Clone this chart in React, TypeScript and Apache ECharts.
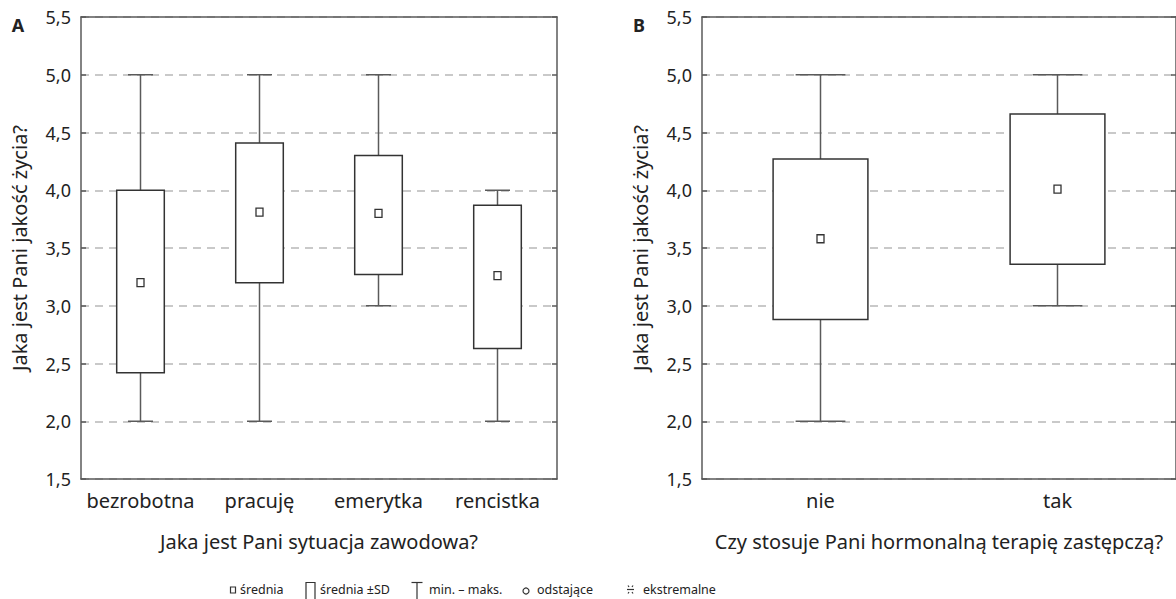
import React, { useEffect, useRef } from "react";
import * as echarts from "echarts";

// Panel A
const categoriesA = ["bezrobotna", "pracuję", "emerytka", "rencistka"];
const minA = [2.0, 2.0, 3.0, 2.0];
const lowSdA = [2.42, 3.2, 3.27, 2.63];
const meanA = [3.2, 3.81, 3.8, 3.26];
const highSdA = [4.0, 4.41, 4.3, 3.87];
const maxA = [5.0, 5.0, 5.0, 4.0];

// Panel B
const categoriesB = ["nie", "tak"];
const minB = [2.0, 3.0];
const lowSdB = [2.88, 3.36];
const meanB = [3.58, 4.01];
const highSdB = [4.27, 4.66];
const maxB = [5.0, 5.0];

const yTicks = [1.5, 2.0, 2.5, 3.0, 3.5, 4.0, 4.5, 5.0, 5.5];
const yName = "Jaka jest Pani jakość życia?";
const xNameA = "Jaka jest Pani sytuacja zawodowa?";
const xNameB = "Czy stosuje Pani hormonalną terapię zastępczą?";
const legendLabels = ["średnia", "średnia ±SD", "min. – maks.", "odstające", "ekstremalne"];

const FONT = "Noto Sans";
const AXIS_COLOR = "#5a5a5a";
const BOX_COLOR = "#333";
const TEXT_COLOR = "#222";

function buildData(mins: number[], lows: number[], means: number[], highs: number[], maxs: number[]) {
  return mins.map((m, i) => [i, m, lows[i], means[i], highs[i], maxs[i]]);
}

const renderItem = (params: any, api: any) => {
  const x = api.value(0);
  const pMin = api.coord([x, api.value(1)]);
  const pLow = api.coord([x, api.value(2)]);
  const pMean = api.coord([x, api.value(3)]);
  const pHigh = api.coord([x, api.value(4)]);
  const pMax = api.coord([x, api.value(5)]);
  const band = api.size([1, 0])[0];
  const boxW = band * 0.4;
  const capW = band * 0.21;
  const cx = pMean[0];
  const lineStyle = { stroke: AXIS_COLOR, lineWidth: 1.5, fill: null };
  return {
    type: "group",
    children: [
      { type: "line", shape: { x1: cx, y1: pMax[1], x2: cx, y2: pHigh[1] }, style: lineStyle },
      { type: "line", shape: { x1: cx, y1: pLow[1], x2: cx, y2: pMin[1] }, style: lineStyle },
      { type: "line", shape: { x1: cx - capW / 2, y1: pMax[1], x2: cx + capW / 2, y2: pMax[1] }, style: lineStyle },
      { type: "line", shape: { x1: cx - capW / 2, y1: pMin[1], x2: cx + capW / 2, y2: pMin[1] }, style: lineStyle },
      {
        type: "rect",
        shape: { x: cx - boxW / 2, y: pHigh[1], width: boxW, height: pLow[1] - pHigh[1] },
        style: { fill: "#fff", stroke: BOX_COLOR, lineWidth: 1.5 },
      },
      {
        type: "rect",
        shape: { x: cx - 3.5, y: pMean[1] - 4, width: 7, height: 8 },
        style: { fill: "#fff", stroke: BOX_COLOR, lineWidth: 1.3 },
      },
    ],
  };
};

const fmt = (v: number) => v.toFixed(1).replace(".", ",");

function makeAxes(gridIndex: number, cats: string[], xName: string) {
  const xMain = {
    type: "category",
    gridIndex,
    data: cats,
    boundaryGap: true,
    name: xName,
    nameLocation: "middle",
    nameGap: 52,
    nameTextStyle: { fontFamily: FONT, fontSize: 20, color: TEXT_COLOR },
    axisLine: { lineStyle: { color: AXIS_COLOR, width: 1.5 } },
    axisTick: { alignWithLabel: true, inside: true, length: 5, lineStyle: { color: AXIS_COLOR, width: 1.5 } },
    axisLabel: { fontFamily: FONT, fontSize: 20, color: TEXT_COLOR, margin: 11, interval: 0 },
    splitLine: { show: false },
  };
  const xTop = {
    type: "category",
    gridIndex,
    data: cats,
    position: "top",
    boundaryGap: true,
    axisLine: { lineStyle: { color: AXIS_COLOR, width: 1.5 } },
    axisTick: { alignWithLabel: true, inside: true, length: 5, lineStyle: { color: AXIS_COLOR, width: 1.5 } },
    axisLabel: { show: false },
    splitLine: { show: false },
  };
  const yMain = {
    type: "value",
    gridIndex,
    min: yTicks[0],
    max: yTicks[yTicks.length - 1],
    interval: 0.5,
    name: yName,
    nameLocation: "middle",
    nameGap: 52,
    nameTextStyle: { fontFamily: FONT, fontSize: 20, color: TEXT_COLOR },
    axisLine: { show: true, lineStyle: { color: AXIS_COLOR, width: 1.5 } },
    axisTick: { show: true, inside: true, length: 5, lineStyle: { color: AXIS_COLOR, width: 1.5 } },
    axisLabel: { fontFamily: FONT, fontSize: 18, color: TEXT_COLOR, margin: 10, formatter: fmt },
    splitLine: { show: true, lineStyle: { color: "#b8b8b8", type: [8, 6], width: 1.5 } },
  };
  const yRight = {
    type: "value",
    gridIndex,
    min: yTicks[0],
    max: yTicks[yTicks.length - 1],
    interval: 0.5,
    position: "right",
    axisLine: { show: true, lineStyle: { color: AXIS_COLOR, width: 1.5 } },
    axisTick: { show: true, inside: true, length: 5, lineStyle: { color: AXIS_COLOR, width: 1.5 } },
    axisLabel: { show: false },
    splitLine: { show: false },
  };
  return { xMain, xTop, yMain, yRight };
}

export default function App() {
  const ref = useRef<HTMLDivElement>(null);
  useEffect(() => {
    if (!ref.current) return;
    const chart = echarts.init(ref.current, null, { renderer: "svg" });
    const a = makeAxes(0, categoriesA, xNameA);
    const b = makeAxes(1, categoriesB, xNameB);
    const legendY = 589;
    const legendText = (x: number, t: string) => ({
      type: "text",
      x,
      y: legendY,
      style: { text: t, fontFamily: FONT, fontSize: 12.5, fill: TEXT_COLOR, verticalAlign: "middle", align: "left" },
    });
    const gs = { stroke: "#333", lineWidth: 1.2, fill: null };
    chart.setOption({
      animation: false,
      grid: [
        { left: 81, top: 17, width: 476, height: 462 },
        { left: 702, top: 17, width: 476, height: 462 },
      ],
      xAxis: [a.xMain, a.xTop, b.xMain, b.xTop],
      yAxis: [a.yMain, a.yRight, b.yMain, b.yRight],
      series: [
        {
          type: "custom",
          xAxisIndex: 0,
          yAxisIndex: 0,
          renderItem,
          encode: { x: 0, y: [1, 2, 3, 4, 5] },
          data: buildData(minA, lowSdA, meanA, highSdA, maxA),
          z: 5,
        },
        {
          type: "custom",
          xAxisIndex: 2,
          yAxisIndex: 2,
          renderItem,
          encode: { x: 0, y: [1, 2, 3, 4, 5] },
          data: buildData(minB, lowSdB, meanB, highSdB, maxB),
          z: 5,
        },
      ],
      graphic: [
        { type: "text", x: 18, y: 25, style: { text: "A", fontFamily: FONT, fontSize: 18, fontWeight: "bold", fill: TEXT_COLOR, align: "center", verticalAlign: "middle" } },
        { type: "text", x: 639, y: 25, style: { text: "B", fontFamily: FONT, fontSize: 18, fontWeight: "bold", fill: TEXT_COLOR, align: "center", verticalAlign: "middle" } },
        // mean symbol
        { type: "rect", shape: { x: 230.5, y: 587, width: 5, height: 6 }, style: { fill: "#fff", stroke: "#333", lineWidth: 1.2 } },
        legendText(240, legendLabels[0]),
        // box symbol
        { type: "polyline", shape: { points: [[306, 599], [306, 582.5], [315, 582.5], [315, 599]] }, style: gs },
        legendText(320, legendLabels[1]),
        // whisker symbol
        { type: "line", shape: { x1: 411.5, y1: 582.5, x2: 422.5, y2: 582.5 }, style: gs },
        { type: "line", shape: { x1: 417, y1: 582.5, x2: 417, y2: 599 }, style: gs },
        legendText(429, legendLabels[2]),
        // outlier symbol
        { type: "circle", shape: { cx: 526, cy: 591, r: 3 }, style: gs },
        legendText(537, legendLabels[3]),
        // extreme symbol
        { type: "line", shape: { x1: 627, y1: 589.5, x2: 634, y2: 589.5 }, style: gs },
        { type: "line", shape: { x1: 628, y1: 585.5, x2: 629, y2: 587 }, style: gs },
        { type: "line", shape: { x1: 633, y1: 585.5, x2: 632, y2: 587 }, style: gs },
        { type: "line", shape: { x1: 628, y1: 593.5, x2: 629, y2: 592 }, style: gs },
        { type: "line", shape: { x1: 633, y1: 593.5, x2: 632, y2: 592 }, style: gs },
        legendText(643, legendLabels[4]),
      ],
    });
    return () => chart.dispose();
  }, []);
  return (
    <div
      ref={ref}
      style={{ position: "absolute", left: 0, top: 0, width: 1176, height: 599, background: "#fff" }}
    />
  );
}
